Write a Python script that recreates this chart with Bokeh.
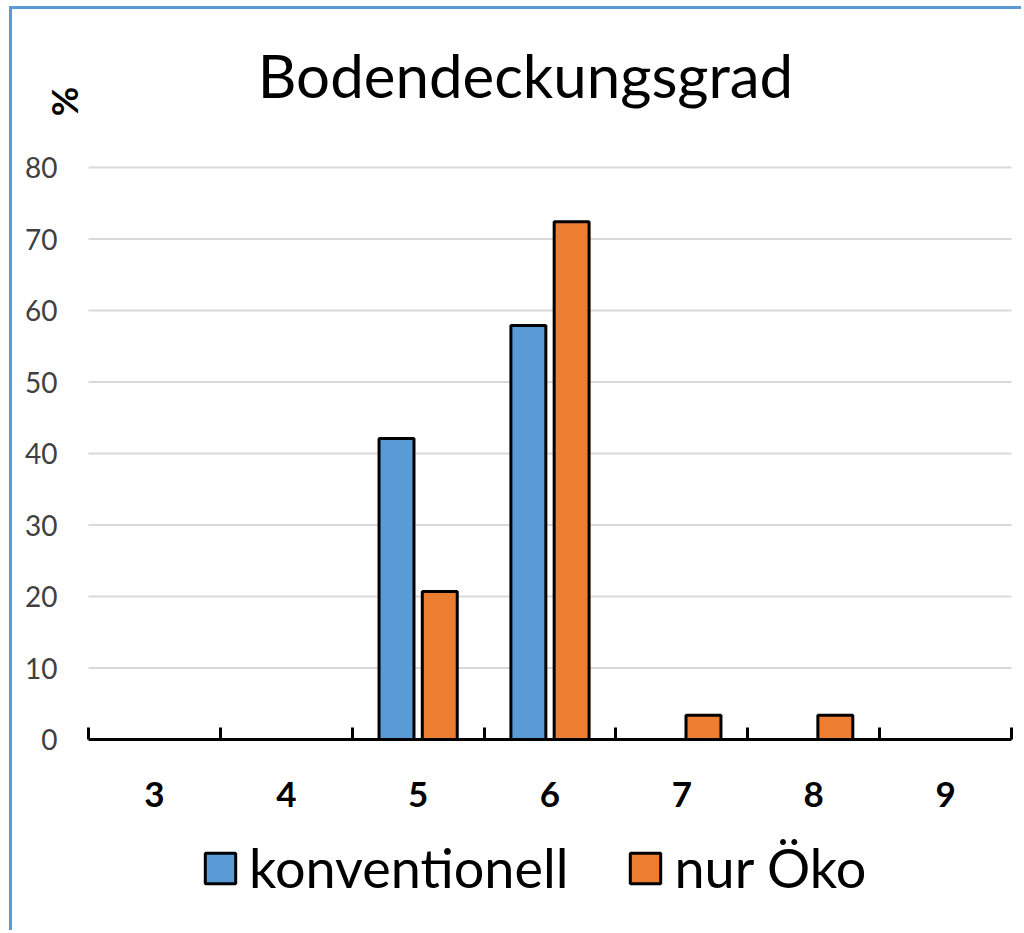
from bokeh.plotting import figure
from bokeh.models import ColumnDataSource, FixedTicker, Label, Legend, LegendItem, Range1d, LinearAxis
from bokeh.transform import dodge
from bokeh.embed import file_html
from bokeh.resources import INLINE

# ---- data ----
categories = [3, 4, 5, 6, 7, 8, 9]
konventionell = [0, 0, 42.1, 57.9, 0, 0, 0]
nur_oeko = [0, 0, 20.7, 72.4, 3.4, 3.4, 0]
y_ticks = [0, 10, 20, 30, 40, 50, 60, 70, 80]
series_names = ["konventionell", "nur Öko"]
title_text = "Bodendeckungsgrad"
y_unit = "%"

BLUE = "#5B9BD5"
ORANGE = "#ED7D31"
FONT = "Lato"

src = ColumnDataSource(dict(cat=categories, konv=konventionell, oeko=nur_oeko))

x_start = categories[0] - 0.5
x_end = categories[-1] + 0.5

# frame geometry (pixels): category area of the original spans 88..1011 x, 167..739 y
FW, FH = 1009, 921
px_per_x = (1011 - 88) / (x_end - x_start)
px_per_y = (739 - 167) / (y_ticks[-1] - y_ticks[0])
x_lo = x_start - (88 - 12) / px_per_x
x_hi = x_end + (1021 - 1011) / px_per_x
y_hi = (739 - 9) / px_per_y
y_lo = -(930 - 739) / px_per_y

p = figure(
    frame_width=FW, frame_height=FH,
    x_range=Range1d(x_lo, x_hi), y_range=Range1d(y_lo, y_hi),
    x_axis_location=None, y_axis_location=None,
    output_backend="svg", toolbar_location=None,
    min_border_left=0, min_border_right=0, min_border_top=0, min_border_bottom=0,
    outline_line_color=None,
    styles={"border-left": "3px solid #5B9BD5", "border-top": "3px solid #5B9BD5",
            "margin-left": "9px", "margin-top": "6px"},
)
for g in p.grid:
    g.visible = False

# horizontal gridlines across the category area
grid_vals = y_ticks[1:]
p.segment(x0=[x_start] * len(grid_vals), x1=[x_end] * len(grid_vals), y0=grid_vals, y1=grid_vals,
          line_color="#D9D9D9", line_width=2)

r1 = p.vbar(x=dodge("cat", -0.164), top="konv", width=0.265, source=src,
            fill_color=BLUE, line_color="black", line_width=3)
r2 = p.vbar(x=dodge("cat", 0.164), top="oeko", width=0.265, source=src,
            fill_color=ORANGE, line_color="black", line_width=3)

# x axis at y = 0
xa = LinearAxis(fixed_location=0, bounds=(x_start, x_end))
xa.ticker = FixedTicker(ticks=categories,
                        minor_ticks=[c - 0.5 for c in categories] + [categories[-1] + 0.5])
xa.major_tick_in = 0
xa.major_tick_out = 0
xa.minor_tick_in = 12
xa.minor_tick_out = 0
xa.minor_tick_line_width = 3
xa.minor_tick_line_color = "black"
xa.axis_line_width = 3
xa.axis_line_color = "black"
xa.major_label_text_font = FONT
xa.major_label_text_font_style = "bold"
xa.major_label_text_font_size = "35px"
xa.major_label_text_color = "black"
xa.major_label_standoff = 42
p.add_layout(xa, "below")

# y axis at the left edge of the category area
ya = LinearAxis(fixed_location=x_start, bounds=(y_ticks[0], y_ticks[-1]))
ya.ticker = FixedTicker(ticks=y_ticks)
ya.axis_line_color = None
ya.major_tick_line_color = None
ya.minor_tick_line_color = None
ya.major_tick_in = 0
ya.major_tick_out = 0
ya.major_label_standoff = 31
ya.major_label_text_font = FONT
ya.major_label_text_font_size = "28px"
ya.major_label_text_color = "#404040"
p.add_layout(ya, "left")

# title
p.add_layout(Label(x=x_start + (525 - 88) / px_per_x, y=(739 - 74) / px_per_y, text=title_text,
                   text_align="center", text_baseline="alphabetic",
                   text_font=FONT, text_font_size="60px", text_color="black"))
# unit label
p.add_layout(Label(x=x_start + (63 - 88) / px_per_x, y=(739 - 101) / px_per_y, text=y_unit,
                   angle=1.5708, text_align="center", text_baseline="middle",
                   text_font=FONT, text_font_style="bold",
                   text_font_size="36px", text_color="black"))

legend = Legend(
    items=[LegendItem(label=series_names[0], renderers=[r1]),
           LegendItem(label=series_names[1], renderers=[r2])],
    orientation="horizontal", location=(189, 30),
    glyph_width=38, glyph_height=38, label_standoff=10, spacing=58,
    label_text_font=FONT, label_text_font_size="54px", label_text_color="black",
    padding=0, margin=0, border_line_color=None, background_fill_alpha=0,
)
p.add_layout(legend)

open("out.html", "w").write(file_html(p, INLINE))
